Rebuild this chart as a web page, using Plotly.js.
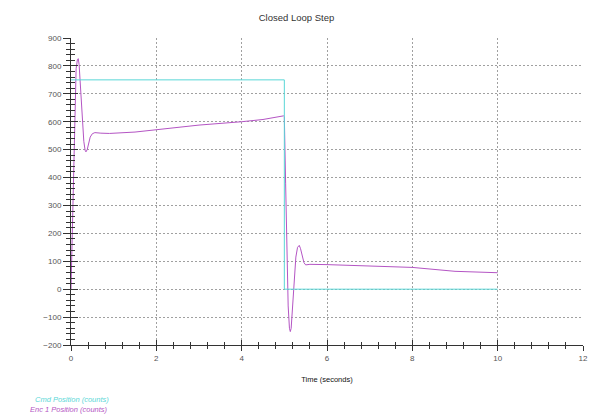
<!DOCTYPE html>
<html>
<head>
<meta charset="utf-8">
<script src="https://cdn.plot.ly/plotly-3.0.1.min.js"></script>
<style>html,body{margin:0;padding:0;background:#fff;}#chart{width:595px;height:415px;}</style>
</head>
<body>
<div id="chart"></div>
<script>
// Cmd Position (counts)
var cmdTime = [0, 5.0, 5.0, 10.0];
var cmdPos = [750, 750, 0, 0];

// Enc 1 Position (counts)
var encTime = [0, 0.04, 0.08, 0.12, 0.15, 0.17, 0.19, 0.22, 0.26, 0.3, 0.33, 0.35, 0.38, 0.41, 0.45, 0.5, 0.56, 0.7, 0.9, 1.5, 2.0, 3.0, 4.0, 4.5, 4.98,
  5.0, 5.03, 5.06, 5.09, 5.12, 5.14, 5.16, 5.19, 5.23, 5.27, 5.31, 5.35, 5.38, 5.42, 5.46, 5.5, 5.6, 6.0, 7.0, 7.7, 8.0, 9.0, 10.0];
var encPos = [0, 300, 620, 790, 822, 826, 805, 725, 610, 530, 498, 492, 500, 520, 545, 557, 561, 559, 558, 563, 572, 588, 600, 608, 621,
  618, 380, 120, -60, -140, -152, -140, -80, 30, 115, 150, 157, 145, 118, 95, 87, 89, 88, 84, 81, 78, 64, 59];

var cyan = '#5ad7d7';
var magenta = '#b455c4';

var traces = [
  {x: cmdTime, y: cmdPos, type: 'scatter', mode: 'lines', line: {color: cyan, width: 1}, xaxis: 'x2', yaxis: 'y2', hoverinfo: 'skip'},
  {x: encTime, y: encPos, type: 'scatter', mode: 'lines', line: {color: magenta, width: 1}}
];

var axBase = {
  linecolor: '#333', linewidth: 1, showline: true, mirror: false,
  tickcolor: '#333', tickwidth: 1, zeroline: false
};

var layout = {
  width: 595, height: 415,
  margin: {l: 71, r: 12, t: 38, b: 70},
  paper_bgcolor: '#fff', plot_bgcolor: '#fff',
  showlegend: false,
  font: {family: 'Liberation Sans, Arial, sans-serif', color: '#333'},
  title: {text: 'Closed Loop Step', font: {size: 9.5, color: '#333'}, x: 296.5 / 595, xanchor: 'center', y: 1 - 18 / 415, yanchor: 'middle'},
  xaxis: Object.assign({}, axBase, {
    range: [0, 12], tickmode: 'linear', tick0: 0, dtick: 2,
    ticks: 'outside', ticklen: 5,
    minor: {dtick: 0.4, tick0: 0, ticks: 'outside', ticklen: 3, tickcolor: '#333', showgrid: false},
    showgrid: true, gridcolor: '#a0a0a0', griddash: '2px,2px', gridwidth: 1,
    tickfont: {size: 8, color: '#555'},
    title: {text: 'Time (seconds)', font: {size: 7.5, color: '#111'}, standoff: 15}
  }),
  yaxis: Object.assign({}, axBase, {
    range: [-200, 900], tickmode: 'linear', tick0: 0, dtick: 100,
    ticks: 'outside', ticklen: 7,
    minor: {dtick: 20, tick0: 0, ticks: 'outside', ticklen: 4, tickcolor: '#333', showgrid: false},
    showgrid: true, gridcolor: '#a0a0a0', griddash: '2px,2px', gridwidth: 1,
    tickfont: {size: 8, color: '#555'}
  }),
  xaxis2: Object.assign({}, axBase, {
    range: [0, 12], overlaying: 'x', tickmode: 'linear', tick0: 0, dtick: 2, showticklabels: false,
    ticks: 'inside', ticklen: 5, showgrid: false,
    minor: {dtick: 0.4, tick0: 0, ticks: 'inside', ticklen: 3, tickcolor: '#333', showgrid: false}
  }),
  yaxis2: Object.assign({}, axBase, {
    range: [-200, 900], overlaying: 'y', tickmode: 'linear', tick0: 0, dtick: 100, showticklabels: false,
    ticks: 'inside', ticklen: 7, showgrid: false,
    minor: {dtick: 20, tick0: 0, ticks: 'inside', ticklen: 4, tickcolor: '#333', showgrid: false}
  }),
  annotations: [
    {xref: 'paper', yref: 'paper', x: 0.0, y: 0, xshift: -38, yshift: -54, xanchor: 'left', yanchor: 'middle', showarrow: false,
     text: '<i>Cmd Position (counts)</i>', font: {size: 7.5, color: cyan}},
    {xref: 'paper', yref: 'paper', x: 0.0, y: 0, xshift: -43, yshift: -64, xanchor: 'left', yanchor: 'middle', showarrow: false,
     text: '<i>Enc 1 Position (counts)</i>', font: {size: 7.5, color: magenta}}
  ]
};

Plotly.newPlot('chart', traces, layout, {displayModeBar: false, staticPlot: true});
</script>
</body>
</html>
